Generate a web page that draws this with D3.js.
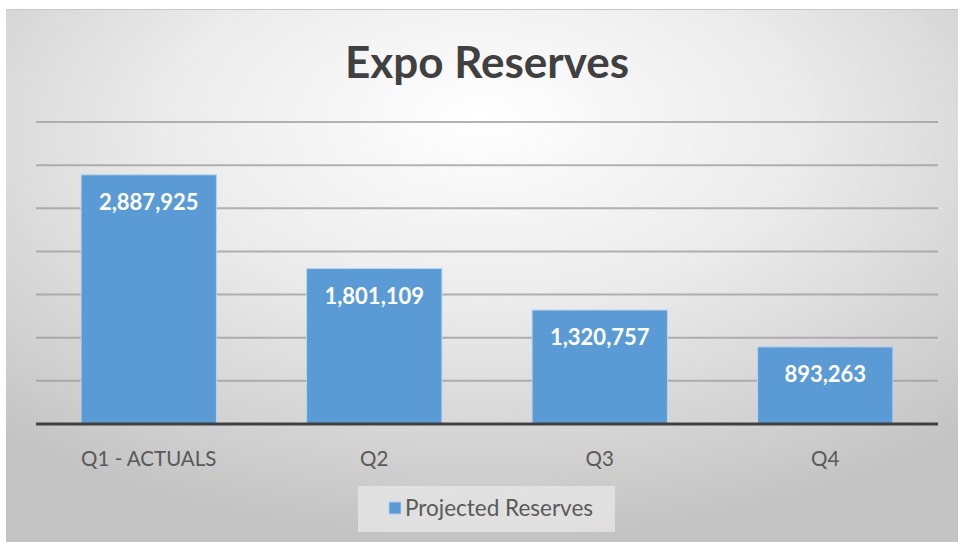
<!DOCTYPE html>
<html><head><meta charset="utf-8">
<script src="https://cdn.jsdelivr.net/npm/d3@7"></script>
<style>html,body{margin:0;padding:0;background:#fff;}svg{display:block;}</style>
</head><body>
<svg id="c" width="960" height="542"></svg>
<script>
const categories = ["Q1 - ACTUALS", "Q2", "Q3", "Q4"];
const values = [2887925, 1801109, 1320757, 893263];
const yTicks = [0, 500000, 1000000, 1500000, 2000000, 2500000, 3000000, 3500000];
const seriesName = "Projected Reserves";
const title = "Expo Reserves";

const svg = d3.select("#c");
const defs = svg.append("defs");
const grad = defs.append("radialGradient").attr("id","bg")
  .attr("cx","50%").attr("cy","25%").attr("r","75%").attr("fx","50%").attr("fy","20%");
grad.append("stop").attr("offset","0%").attr("stop-color","#ffffff");
grad.append("stop").attr("offset","45%").attr("stop-color","#ebebeb");
grad.append("stop").attr("offset","100%").attr("stop-color","#c3c3c3");

svg.append("rect").attr("x",6).attr("y",9).attr("width",952).attr("height",533).attr("fill","url(#bg)");
svg.append("line").attr("x1",6).attr("x2",958).attr("y1",9.5).attr("y2",9.5).attr("stroke","#c8c8c8").attr("stroke-width",1);

const x = d3.scaleBand().domain(categories).range([36, 938]).paddingInner(0.4).paddingOuter(0.2);
const y = d3.scaleLinear().domain([0, 3500000]).range([424, 122]);

const font = "Lato, 'Open Sans', sans-serif";

// gridlines
svg.append("g").selectAll("line").data(yTicks.filter(d=>d>0)).join("line")
  .attr("x1",36).attr("x2",938).attr("y1",d=>y(d)).attr("y2",d=>y(d))
  .attr("stroke","#a0a0a0").attr("stroke-opacity",0.8).attr("stroke-width",2);

// bars
svg.append("g").selectAll("rect").data(values).join("rect")
  .attr("x",(d,i)=>x(categories[i])).attr("width",x.bandwidth())
  .attr("y",d=>y(d)).attr("height",d=>y(0)-y(d))
  .attr("fill","#5b9bd5").attr("stroke","#b9d3ee").attr("stroke-width",1);

// baseline + category axis
const xAxis = d3.axisBottom(x).tickSize(0).tickPadding(27);
const ax = svg.append("g").attr("transform",`translate(0,${y(0)})`).call(xAxis);
ax.select(".domain").attr("stroke","#404040").attr("stroke-width",3).attr("d","M36,0H938");
ax.selectAll("text").attr("fill","#595959").attr("font-family",font).attr("font-size",20.5);

// value labels
svg.append("g").selectAll("text").data(values).join("text")
  .attr("x",(d,i)=>x(categories[i])+x.bandwidth()/2).attr("y",d=>y(d)+35)
  .attr("text-anchor","middle").attr("fill","#ffffff").attr("font-weight","bold")
  .attr("font-family",font).attr("font-size",22)
  .text(d=>d3.format(",")(d));

// title
svg.append("text").attr("x",487).attr("y",78).attr("text-anchor","middle")
  .attr("fill","#404040").attr("font-weight","bold").attr("font-family",font)
  .attr("font-size",44).text(title);

// legend
const lg = svg.append("g");
lg.append("rect").attr("x",358).attr("y",486).attr("width",257).attr("height",46).attr("fill","#e4e4e4").attr("fill-opacity",0.85);
lg.append("rect").attr("x",389).attr("y",502).attr("width",12).attr("height",12).attr("fill","#5b9bd5").attr("stroke","#b9d3ee").attr("stroke-width",0.8);
lg.append("text").attr("x",405).attr("y",516).attr("fill","#595959")
  .attr("font-family",font).attr("font-size",22.5).text(seriesName);
</script>
</body></html>
